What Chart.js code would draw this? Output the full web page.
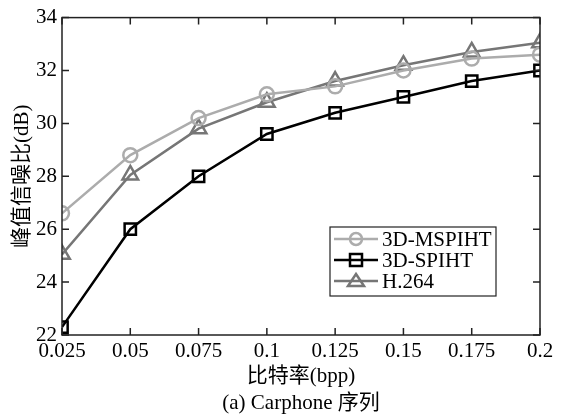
<!DOCTYPE html>
<html>
<head>
<meta charset="utf-8">
<script src="https://cdn.jsdelivr.net/npm/chart.js@4"></script>
<style>
  html, body { margin: 0; padding: 0; background: #fff; }
  #wrap { width: 564px; height: 417px; }
</style>
</head>
<body>
<div id="wrap"><canvas id="c" width="564" height="417"></canvas></div>
<script>
const bitrates = [0.025, 0.05, 0.075, 0.1, 0.125, 0.15, 0.175, 0.2];
const xTickLabels = ['0.025', '0.05', '0.075', '0.1', '0.125', '0.15', '0.175', '0.2'];
const yTicks = [22, 24, 26, 28, 30, 32, 34];

const mspiht = [26.6, 28.8, 30.2, 31.1, 31.4, 32.0, 32.45, 32.6];
const spiht  = [22.3, 26.0, 28.0, 29.6, 30.4, 31.0, 31.6, 32.0];
const h264   = [25.05, 28.05, 29.8, 30.8, 31.6, 32.2, 32.7, 33.05];

const FONT = '"Liberation Serif", "Noto Sans CJK SC", serif';

function pts(vals) {
  return vals.map((v, i) => ({ x: bitrates[i], y: v }));
}

const series = [
  { label: '3D-MSPIHT', data: mspiht, color: '#acacac', style: 'circle', r: 7 },
  { label: '3D-SPIHT', data: spiht, color: '#000000', style: 'rect', r: 8 },
  { label: 'H.264', data: h264, color: '#767676', style: 'triangle', r: 9 },
];

// inward ticks on all four sides plus the legend box
const boxPlugin = {
  id: 'boxPlugin',
  afterDraw(chart) {
    const ctx = chart.ctx;
    const a = chart.chartArea;
    const xs = chart.scales.x, ys = chart.scales.y;
    ctx.save();
    ctx.strokeStyle = '#222';
    ctx.lineWidth = 1.5;
    ctx.strokeRect(a.left, a.top, a.right - a.left, a.bottom - a.top);
    ctx.beginPath();
    bitrates.forEach(v => {
      const px = xs.getPixelForValue(v);
      ctx.moveTo(px, a.bottom); ctx.lineTo(px, a.bottom - 7);
      ctx.moveTo(px, a.top); ctx.lineTo(px, a.top + 7);
    });
    yTicks.forEach(v => {
      const py = ys.getPixelForValue(v);
      ctx.moveTo(a.left, py); ctx.lineTo(a.left + 7, py);
      ctx.moveTo(a.right, py); ctx.lineTo(a.right - 7, py);
    });
    ctx.stroke();

    // legend
    const lx = 330, ly = 227, lw = 166, lh = 69;
    ctx.fillStyle = '#fff';
    ctx.fillRect(lx, ly, lw, lh);
    ctx.lineWidth = 1.2;
    ctx.strokeStyle = '#222';
    ctx.strokeRect(lx, ly, lw, lh);
    ctx.font = '21px ' + FONT;
    ctx.textBaseline = 'middle';
    series.forEach((s, i) => {
      const cy = ly + 12 + i * 21;
      ctx.strokeStyle = s.color;
      ctx.lineWidth = 2.5;
      ctx.beginPath();
      ctx.moveTo(lx + 4, cy); ctx.lineTo(lx + 48, cy);
      ctx.stroke();
      const mx = lx + 26;
      ctx.beginPath();
      if (s.style === 'circle') {
        ctx.arc(mx, cy, 6, 0, Math.PI * 2);
      } else if (s.style === 'rect') {
        ctx.rect(mx - 6, cy - 6, 12, 12);
      } else {
        ctx.moveTo(mx, cy - 7); ctx.lineTo(mx + 8, cy + 5); ctx.lineTo(mx - 8, cy + 5); ctx.closePath();
      }
      ctx.stroke();
      ctx.fillStyle = '#000';
      ctx.fillText(s.label, lx + 52, cy + 1);
    });
    ctx.restore();
  }
};

new Chart(document.getElementById('c'), {
  type: 'line',
  data: {
    datasets: series.map(s => ({
      label: s.label,
      data: pts(s.data),
      borderColor: s.color,
      backgroundColor: 'rgba(0,0,0,0)',
      borderWidth: 2.5,
      pointStyle: s.style,
      pointRadius: s.r,
      pointBorderWidth: 2.5,
      pointBorderColor: s.color,
      pointBackgroundColor: 'rgba(0,0,0,0)',
      tension: 0,
    }))
  },
  options: {
    responsive: false,
    animation: false,
    layout: { padding: { left: 0, right: 24, top: 16, bottom: 0 } },
    plugins: { legend: { display: false }, tooltip: { enabled: false } },
    scales: {
      x: {
        type: 'linear',
        min: 0.025, max: 0.2,
        afterBuildTicks(scale) { scale.ticks = bitrates.map(v => ({ value: v })); },
        afterFit(scale) { scale.height = 82; },
        grid: { display: false, drawTicks: false },
        border: { display: false },
        ticks: {
          color: '#000',
          padding: 4,
          font: { family: FONT, size: 21 },
          callback: (v, i) => xTickLabels[i],
          maxRotation: 0,
          autoSkip: false,
        },
        title: {
          display: true,
          text: ['比特率(bpp)', '(a) Carphone 序列'],
          color: '#000',
          font: { family: FONT, size: 21, lineHeight: 1.3 },
          padding: { top: 0, bottom: 0 },
        },
      },
      y: {
        min: 22, max: 34,
        afterBuildTicks(scale) { scale.ticks = yTicks.map(v => ({ value: v })); },
        afterFit(scale) { scale.width = 62; },
        grid: { display: false, drawTicks: false },
        border: { display: false },
        ticks: {
          color: '#000',
          padding: 5,
          font: { family: FONT, size: 21 },
        },
        title: {
          display: true,
          text: '峰值信噪比(dB)',
          color: '#000',
          font: { family: FONT, size: 21 },
          padding: { top: 10, bottom: 0 },
        },
      },
    },
  },
  plugins: [boxPlugin],
});
</script>
</body>
</html>
